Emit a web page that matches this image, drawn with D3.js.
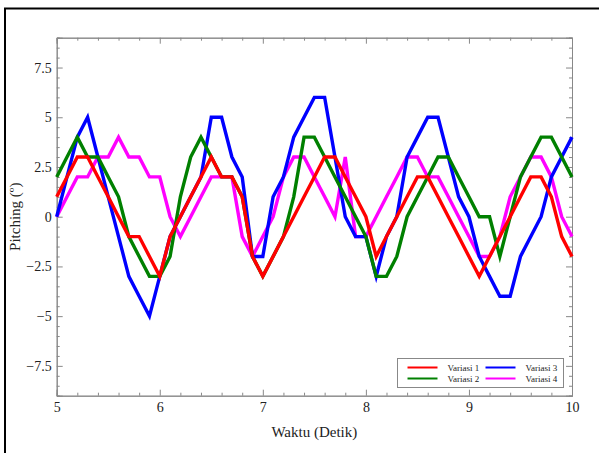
<!DOCTYPE html>
<html>
<head>
<meta charset="utf-8">
<script src="https://cdn.jsdelivr.net/npm/d3@7"></script>
<style>
  body { margin: 0; background: #fff; }
  text { font-family: "Liberation Serif", "DejaVu Serif", serif; }
</style>
</head>
<body>
<div id="chart"></div>
<script>
// time samples every 0.1 s from 5 to 10
const waktu = d3.range(51).map(i => +(5 + i * 0.1).toFixed(1));

const variasi1 = [1,2,3,3,2,1,0,-1,-1,-2,-3, -1,0,1,2,3,2,2,1,-2,-3,
  -2,-1,0,1,2,3,3,2,1,0, -2,-1,0,1,2,2,1,0,-1,-2, -3,-2,-1,0,1,2,2,1,-1,-2];
const variasi2 = [2,3,4,3,3,2,1,-1,-2,-3,-3, -2,1,3,4,3,2,2,1,-2,-3,
  -2,-1,1,4,4,3,2,1,0,-1, -3,-3,-2,0,1,2,3,3,2,1, 0,0,-2,0,2,3,4,4,3,2];
const variasi3 = [0,2,4,5,3,1,-1,-3,-4,-5,-3, -1,0,1,2,5,5,3,2,-2,-2,
  1,2,4,5,6,6,3,0,-1,-1, -3,-1,0,3,4,5,5,3,1,0, -2,-3,-4,-4,-2,-1,0,2,3,4];
const variasi4 = [0,1,2,2,3,3,4,3,3,2,2, 0,-1,0,1,2,2,2,-1,-2,-1,
  0,2,3,3,2,1,0,3,-1,-1, 0,1,2,3,3,2,2,1,0,-1, -2,-2,-1,1,2,3,3,2,0,-1];

const seriesNames = ["Variasi 1", "Variasi 2", "Variasi 3", "Variasi 4"];
const seriesColors = ["#ff0000", "#008000", "#0000ff", "#ff00ff"];
const seriesValues = [variasi1, variasi2, variasi3, variasi4];

const xTicks = [5, 6, 7, 8, 9, 10];
const yTicks = [-7.5, -5, -2.5, 0, 2.5, 5, 7.5];

const W = 599, H = 453;
const margin = {top: 37.7, right: 27, bottom: 57.3, left: 56.7};
const width = W - margin.left - margin.right,
      height = H - margin.top - margin.bottom;

const svg = d3.select("#chart").append("svg")
  .attr("width", W).attr("height", H);

// outer frame (left and top edges visible)
svg.append("path")
  .attr("d", `M5,${H} L5,8.5 L${W},8.5`)
  .attr("fill", "none").attr("stroke", "#000").attr("stroke-width", 2);

const g = svg.append("g").attr("transform", `translate(${margin.left},${margin.top})`);

const x = d3.scaleLinear().domain([5, 10]).range([0, width]);
const y = d3.scaleLinear().domain([-9, 9]).range([height, 0]);

const minorX = d3.range(5, 10.001, 0.2).filter(v => Math.abs(v - Math.round(v)) > 1e-6);
const minorY = d3.range(-9, 9.001, 0.5).filter(v => Math.abs(v / 2.5 - Math.round(v / 2.5)) > 1e-6);

function styleAxis(sel) {
  sel.selectAll("path, line").attr("stroke", "#888");
  sel.selectAll("text").attr("fill", "#222").style("font-size", "14px");
}

// minor ticks
g.append("g").attr("transform", `translate(0,${height})`)
  .call(d3.axisBottom(x).tickValues(minorX).tickSize(-3).tickFormat("")).call(styleAxis);
g.append("g")
  .call(d3.axisTop(x).tickValues(minorX).tickSize(-3).tickFormat("")).call(styleAxis);
g.append("g")
  .call(d3.axisLeft(y).tickValues(minorY).tickSize(-3).tickFormat("")).call(styleAxis);
g.append("g").attr("transform", `translate(${width},0)`)
  .call(d3.axisRight(y).tickValues(minorY).tickSize(-3).tickFormat("")).call(styleAxis);

// major ticks
g.append("g").attr("transform", `translate(0,${height})`)
  .call(d3.axisBottom(x).tickValues(xTicks).tickSize(-6).tickPadding(6).tickFormat(d3.format("d")))
  .call(styleAxis);
g.append("g")
  .call(d3.axisTop(x).tickValues(xTicks).tickSize(-6).tickFormat("")).call(styleAxis);
g.append("g")
  .call(d3.axisLeft(y).tickValues(yTicks).tickSize(-6).tickPadding(5)
    .tickFormat(d => d === 0 ? "0" : String(d).replace("-", "\u2212")))
  .call(styleAxis);
g.append("g").attr("transform", `translate(${width},0)`)
  .call(d3.axisRight(y).tickValues(yTicks).tickSize(-6).tickFormat("")).call(styleAxis);

// lines, Variasi 4 drawn first so Variasi 1 sits on top
const line = d3.line().x((d, i) => x(waktu[i])).y(d => y(d));
const order = [3, 2, 1, 0];
order.forEach(k => {
  g.append("path")
    .datum(seriesValues[k])
    .attr("d", line)
    .attr("fill", "none")
    .attr("stroke", seriesColors[k])
    .attr("stroke-width", 3.4)
    .attr("stroke-linejoin", "miter");
});

// legend
const lg = svg.append("g").attr("transform", "translate(397.5,358.5)");
lg.append("rect").attr("width", 166).attr("height", 29)
  .attr("fill", "#fff").attr("stroke", "#888").attr("stroke-width", 1);
seriesNames.forEach((name, i) => {
  const col = Math.floor(i / 2), row = i % 2;
  const ox = 10 + col * 78, oy = 9 + row * 11;
  lg.append("line").attr("x1", ox).attr("x2", ox + 30).attr("y1", oy).attr("y2", oy)
    .attr("stroke", seriesColors[i]).attr("stroke-width", 2);
  lg.append("text").attr("x", ox + 40).attr("y", oy).attr("dy", "0.35em")
    .style("font-size", "9px").attr("fill", "#222").text(name);
});

// axis titles
svg.append("text")
  .attr("x", margin.left + width / 2).attr("y", 437)
  .attr("text-anchor", "middle").style("font-size", "15px").attr("fill", "#222")
  .text("Waktu (Detik)");
svg.append("text")
  .attr("transform", `translate(20,${margin.top + height / 2}) rotate(-90)`)
  .attr("text-anchor", "middle").style("font-size", "15px").attr("fill", "#222")
  .text("Pitching (º)");
</script>
</body>
</html>
